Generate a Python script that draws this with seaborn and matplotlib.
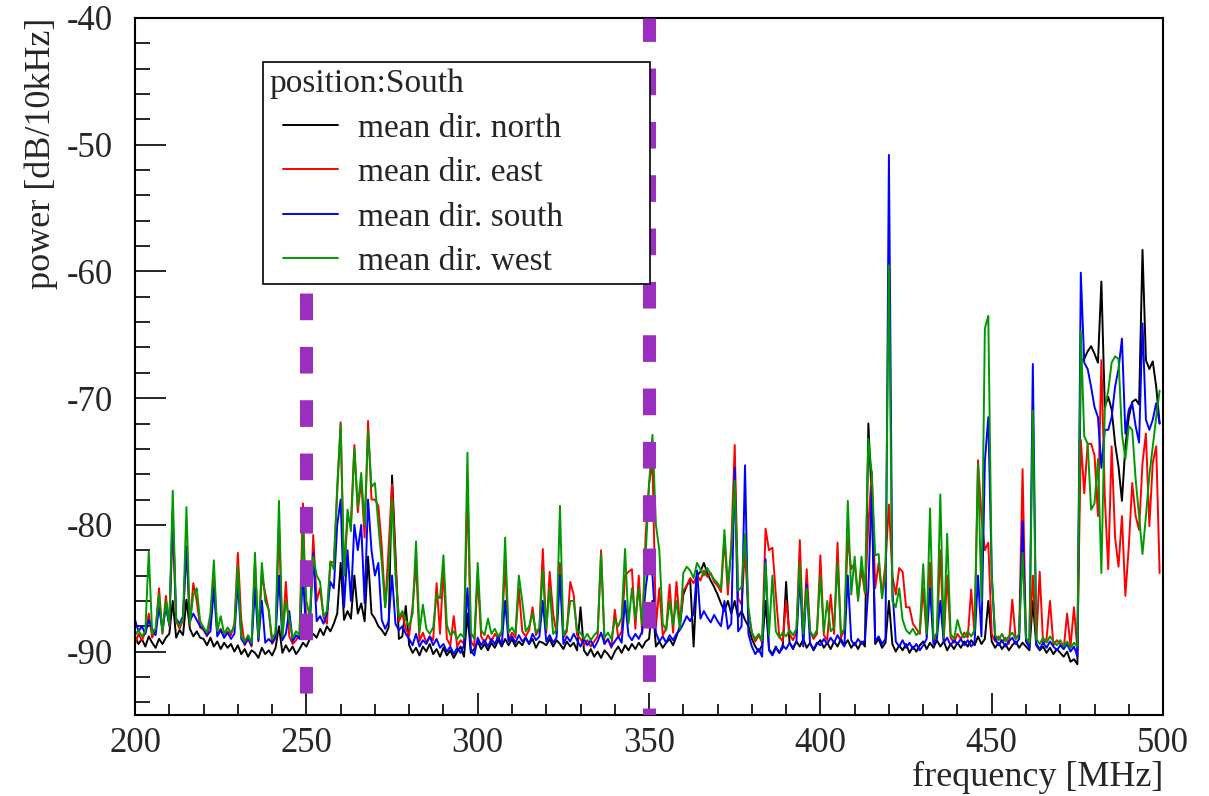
import pandas as pd
import matplotlib
matplotlib.use("Agg")
import matplotlib.pyplot as plt
from matplotlib.lines import Line2D
from matplotlib.legend_handler import HandlerLine2D
from matplotlib.ticker import MultipleLocator
import seaborn as sns

# mean power spectra, 1 MHz bins from 200 to 499 MHz
freq = list(range(200, 500))

north = [
    -88.8, -89.4, -89.0, -89.6, -88.8, -89.3, -89.7, -89.0, -89.4, -88.9,   # 200
    -88.6, -86.0, -88.9, -88.3, -88.7, -85.9, -88.2, -88.8, -88.4, -88.9,   # 210
    -89.0, -89.5, -88.9, -89.6, -89.2, -89.8, -89.3, -89.7, -89.4, -90.0,   # 220
    -89.5, -90.2, -89.8, -90.4, -89.9, -90.1, -90.5, -89.7, -90.2, -89.9,   # 230
    -90.3, -89.7, -88.0, -90.1, -89.5, -90.0, -89.6, -90.2, -89.8, -89.3,   # 240
    -89.6, -89.0, -88.6, -88.9, -88.2, -88.7, -88.0, -88.4, -87.8, -87.0,   # 250
    -83.0, -87.5, -86.8, -87.4, -84.0, -87.0, -86.2, -87.6, -82.5, -87.0,   # 260
    -87.4, -88.0, -88.3, -88.7, -88.1, -76.1, -82.3, -89.0, -88.8, -86.4,   # 270
    -89.5, -90.1, -89.7, -90.3, -89.6, -90.0, -89.4, -90.2, -89.8, -90.4,   # 280
    -89.7, -90.3, -89.9, -90.5, -90.0, -89.6, -90.4, -87.0, -90.1, -89.8,   # 290
    -89.2, -89.8, -89.4, -89.9, -89.3, -89.7, -89.1, -89.6, -89.0, -89.5,   # 300
    -89.0, -89.6, -89.2, -89.5, -88.9, -89.4, -89.0, -89.7, -89.2, -89.3,   # 310
    -89.5, -89.0, -89.6, -89.1, -89.4, -89.8, -89.2, -89.6, -89.3, -89.9,   # 320
    -86.5, -89.9, -90.3, -89.8, -90.4, -90.0, -90.5, -89.9, -90.2, -90.6,   # 330
    -90.0, -89.6, -90.1, -89.5, -89.9, -89.4, -89.8, -89.3, -89.7, -89.2,   # 340
    -89.0, -86.0, -89.6, -89.2, -89.7, -89.3, -89.0, -89.5, -88.8, -88.0,   # 350
    -85.5, -84.8, -84.3, -89.6, -84.0, -83.7, -83.0, -83.8, -84.4, -84.9,   # 360
    -85.5, -86.2, -86.8, -86.0, -87.0, -86.0, -87.3, -86.8, -87.5, -88.0,   # 370
    -89.0, -89.6, -90.0, -89.5, -86.0, -89.8, -90.2, -89.6, -90.1, -89.7,   # 380
    -84.5, -89.3, -89.8, -89.2, -89.6, -89.0, -89.7, -89.3, -89.9, -89.4,   # 390
    -89.1, -89.7, -89.3, -89.8, -89.2, -89.6, -89.0, -89.5, -89.1, -89.7,   # 400
    -89.3, -89.8, -89.2, -89.6, -72.0, -78.0, -89.4, -89.0, -89.7, -89.3,   # 410
    -86.0, -89.4, -90.0, -89.5, -89.9, -89.4, -90.1, -89.6, -90.0, -89.5,   # 420
    -89.2, -89.8, -89.3, -89.7, -89.1, -89.6, -89.2, -89.9, -89.4, -89.8,   # 430
    -89.3, -89.7, -89.2, -89.6, -89.1, -89.5, -88.8, -89.4, -89.0, -86.0,   # 440
    -89.2, -89.7, -89.3, -89.8, -89.4, -89.9, -89.5, -89.2, -89.7, -89.3,   # 450
    -89.6, -89.9, -86.0, -89.5, -89.9, -89.6, -90.1, -89.7, -90.2, -89.8,   # 460
    -90.1, -90.4, -90.0, -90.8, -90.6, -91.0, -67.1, -66.9, -66.3, -65.9,   # 470
    -66.5, -67.2, -60.8, -70.7, -69.9, -70.9, -73.6, -75.4, -78.1, -73.8,   # 480
    -71.5, -70.3, -70.1, -70.5, -58.3, -67.0, -67.7, -67.1, -69.1, -72.0,   # 490
]

east = [
    -89.4, -88.6, -89.1, -88.5, -87.0, -88.9, -88.3, -85.0, -88.6, -85.6,   # 200
    -88.0, -80.0, -87.6, -88.2, -87.5, -81.7, -87.9, -84.6, -86.0, -88.1,   # 210
    -88.3, -88.8, -87.6, -84.0, -88.6, -88.2, -88.9, -88.4, -88.7, -87.8,   # 220
    -82.2, -87.5, -89.5, -89.0, -89.6, -83.0, -89.2, -84.0, -85.4, -86.7,   # 230
    -89.4, -88.9, -80.0, -89.0, -84.5, -88.8, -89.4, -89.1, -88.6, -78.3,   # 240
    -88.5, -87.7, -80.8, -86.0, -85.0, -87.3, -87.8, -82.9, -83.0, -77.5,   # 250
    -71.9, -84.0, -79.5, -79.8, -73.7, -79.0, -76.5, -81.0, -71.8, -78.0,   # 260
    -78.0, -78.5, -81.7, -86.5, -81.8, -76.8, -83.0, -87.6, -87.0, -88.2,   # 270
    -88.7, -86.4, -83.0, -89.2, -88.5, -89.3, -88.8, -89.1, -84.6, -88.6,   # 280
    -83.5, -89.0, -89.5, -87.2, -89.6, -89.1, -89.4, -77.0, -89.2, -89.6,   # 290
    -84.0, -88.8, -89.3, -88.7, -89.2, -88.6, -89.0, -88.5, -83.0, -89.1,   # 300
    -88.5, -88.9, -85.0, -88.4, -88.8, -88.3, -86.5, -88.7, -88.2, -81.9,   # 310
    -88.5, -83.7, -87.0, -88.6, -83.0, -88.9, -88.4, -84.5, -85.5, -88.7,   # 320
    -89.0, -89.5, -89.1, -89.6, -89.2, -88.8, -82.0, -89.4, -89.0, -89.7,   # 330
    -86.7, -88.9, -88.4, -84.0, -83.7, -83.5, -88.2, -84.0, -88.6, -80.8,   # 340
    -76.8, -75.0, -88.0, -85.0, -88.7, -88.2, -84.7, -88.5, -84.5, -87.8,   # 350
    -85.2, -84.8, -84.2, -84.6, -84.0, -84.4, -83.6, -84.1, -83.8, -84.5,   # 360
    -84.8, -85.3, -81.0, -85.5, -81.5, -73.7, -85.8, -86.3, -82.0, -87.0,   # 370
    -88.5, -89.2, -88.7, -89.3, -80.3, -82.0, -81.8, -85.5, -88.8, -89.2,   # 380
    -86.0, -88.6, -89.1, -88.5, -81.2, -88.9, -83.5, -88.4, -89.0, -88.6,   # 390
    -82.4, -88.7, -89.1, -85.5, -88.6, -81.4, -88.9, -88.3, -81.0, -83.5,   # 400
    -83.0, -85.8, -83.5, -85.4, -80.0, -75.8, -85.0, -83.0, -85.6, -83.0,   # 410
    -78.4, -84.0, -85.5, -83.4, -83.7, -86.5, -86.5, -87.8, -88.2, -88.6,   # 420
    -85.0, -88.8, -83.0, -89.2, -88.7, -82.0, -89.1, -84.0, -88.9, -89.3,   # 430
    -88.6, -89.0, -88.5, -88.9, -85.1, -88.7, -74.9, -79.4, -82.0, -81.4,   # 440
    -88.6, -89.2, -88.8, -89.3, -88.9, -89.4, -85.9, -89.0, -88.7, -75.6,   # 450
    -89.0, -89.5, -84.0, -89.2, -83.7, -89.4, -89.0, -86.0, -89.5, -89.1,   # 460
    -89.4, -89.8, -87.0, -89.6, -86.5, -89.9, -73.3, -77.5, -73.6, -73.6,   # 470
    -74.5, -79.3, -67.0, -77.8, -83.5, -73.8, -81.0, -83.3, -79.3, -85.6,   # 480
    -81.7, -76.7, -79.3, -80.4, -75.1, -72.8, -80.1, -75.1, -73.8, -83.8,   # 490
]

south = [
    -87.5, -88.4, -88.0, -88.6, -87.5, -88.2, -88.7, -86.5, -88.3, -86.5,   # 200
    -87.9, -78.8, -87.4, -87.8, -87.2, -81.7, -87.6, -87.0, -87.5, -88.0,   # 210
    -88.2, -88.7, -88.4, -85.0, -88.8, -88.3, -88.9, -88.5, -89.0, -88.6,   # 220
    -84.5, -89.0, -89.4, -88.9, -89.5, -85.0, -89.1, -86.0, -89.3, -89.0,   # 230
    -89.3, -88.8, -84.0, -89.1, -88.6, -86.8, -89.2, -88.7, -89.0, -84.0,   # 240
    -88.8, -88.0, -82.2, -87.6, -87.2, -87.8, -87.0, -84.5, -85.0, -80.0,   # 250
    -78.0, -86.5, -82.0, -86.0, -80.0, -82.0, -80.0, -86.2, -78.0, -82.0,   # 260
    -84.0, -83.0, -87.5, -88.2, -87.6, -84.0, -87.8, -88.3, -88.0, -88.6,   # 270
    -89.0, -89.5, -88.6, -89.6, -89.1, -89.4, -88.8, -89.5, -89.0, -89.7,   # 280
    -89.4, -90.0, -89.6, -90.2, -89.7, -90.1, -89.5, -85.0, -89.9, -90.3,   # 290
    -88.9, -89.5, -89.1, -89.6, -89.0, -89.4, -88.8, -89.5, -86.0, -89.2,   # 300
    -88.8, -89.3, -88.7, -89.2, -88.9, -89.4, -88.6, -89.1, -88.8, -86.0,   # 310
    -89.2, -88.7, -89.3, -88.9, -84.0, -89.4, -88.8, -89.2, -88.6, -89.1,   # 320
    -89.6, -89.0, -89.5, -89.1, -89.7, -89.2, -88.5, -89.4, -89.0, -89.6,   # 330
    -89.2, -88.8, -89.3, -86.0, -88.7, -89.1, -88.6, -89.0, -88.4, -85.0,   # 340
    -83.0, -84.0, -88.5, -89.2, -88.8, -89.3, -88.7, -89.1, -88.6, -88.3,   # 350
    -87.8, -87.2, -87.6, -87.0, -83.6, -87.4, -86.8, -87.3, -87.7, -87.1,   # 360
    -87.6, -88.0, -86.0, -88.2, -87.8, -75.5, -88.4, -88.0, -75.3, -88.6,   # 370
    -89.6, -90.2, -89.8, -90.4, -82.7, -89.9, -90.3, -89.7, -90.1, -89.5,   # 380
    -89.8, -89.3, -89.7, -89.2, -84.0, -89.6, -84.7, -89.4, -89.8, -89.3,   # 390
    -89.5, -89.0, -89.4, -88.9, -89.3, -88.7, -89.2, -89.6, -84.0, -89.1,   # 400
    -89.5, -89.0, -89.4, -89.1, -85.0, -77.0, -89.2, -88.8, -89.4, -89.0,   # 410
    -50.8, -85.0, -89.2, -89.6, -89.1, -89.7, -89.3, -89.8, -89.4, -89.9,   # 420
    -89.5, -89.0, -85.0, -89.4, -89.0, -86.0, -89.3, -88.9, -89.5, -89.1,   # 430
    -89.4, -89.0, -89.5, -89.1, -89.6, -89.2, -84.0, -88.8, -75.0, -71.5,   # 440
    -83.9, -89.0, -89.5, -89.1, -89.6, -89.2, -88.9, -89.4, -89.0, -79.7,   # 450
    -89.2, -89.7, -67.3, -89.4, -89.8, -89.3, -89.7, -89.2, -89.6, -89.9,   # 460
    -89.5, -89.8, -89.4, -90.0, -89.6, -90.4, -60.1, -67.2, -67.7, -69.1,   # 470
    -70.7, -71.5, -75.5, -72.5, -72.5, -71.5, -69.1, -67.7, -65.3, -72.8,   # 480
    -70.9, -70.4, -72.2, -73.5, -64.1, -71.7, -72.5, -71.7, -70.4, -72.0,   # 490
]

west = [
    -88.7, -88.3, -88.8, -88.4, -82.1, -88.6, -88.2, -85.5, -88.5, -86.0,   # 200
    -87.9, -77.3, -87.5, -88.0, -87.4, -78.6, -87.8, -85.5, -85.0, -87.6,   # 210
    -88.1, -88.5, -87.0, -82.8, -88.4, -87.2, -88.6, -88.1, -88.5, -88.0,   # 220
    -83.2, -88.8, -89.2, -88.7, -89.3, -82.2, -88.9, -83.0, -86.0, -86.7,   # 230
    -89.0, -88.5, -78.1, -88.8, -86.0, -87.5, -88.9, -88.4, -88.7, -80.6,   # 240
    -86.0, -87.3, -82.5, -84.0, -84.5, -87.2, -86.8, -82.9, -83.5, -76.9,   # 250
    -72.1, -84.0, -78.8, -80.5, -74.0, -78.6, -75.9, -80.0, -72.6, -77.0,   # 260
    -76.7, -80.0, -83.0, -86.5, -83.5, -78.0, -84.0, -87.3, -86.8, -87.5,   # 270
    -88.0, -87.0, -81.3, -88.5, -86.3, -88.2, -88.6, -88.1, -85.5, -85.8,   # 280
    -82.4, -87.9, -88.7, -88.4, -89.0, -88.6, -88.9, -74.3, -88.5, -89.0,   # 290
    -83.0, -88.3, -88.7, -87.4, -88.6, -88.2, -88.8, -88.4, -81.0, -88.5,   # 300
    -88.1, -88.6, -84.0, -86.0, -88.4, -88.0, -87.0, -88.5, -88.1, -83.6,   # 310
    -88.2, -85.0, -88.6, -88.3, -78.5, -88.7, -88.2, -86.0, -86.0, -88.4,   # 320
    -88.5, -89.0, -88.6, -89.1, -88.7, -88.4, -82.3, -88.9, -88.5, -89.0,   # 330
    -87.5, -88.0, -87.3, -81.9, -87.8, -85.0, -87.4, -85.0, -87.9, -82.5,   # 340
    -76.8, -72.9, -80.0, -82.0, -87.8, -88.3, -86.0, -87.9, -86.0, -88.2,   # 350
    -83.8, -83.3, -83.6, -84.2, -83.0, -83.5, -84.0, -83.4, -83.9, -84.3,   # 360
    -84.6, -85.0, -80.4, -84.8, -82.0, -76.5, -85.2, -84.9, -80.7, -86.5,   # 370
    -88.5, -89.0, -88.6, -89.1, -83.0, -88.7, -84.0, -88.4, -88.9, -88.5,   # 380
    -88.8, -88.3, -88.7, -88.2, -83.0, -88.6, -85.0, -88.4, -88.8, -88.3,   # 390
    -84.0, -88.5, -86.0, -88.4, -88.1, -83.0, -88.6, -88.2, -78.1, -85.5,   # 400
    -82.5, -86.0, -82.5, -85.3, -73.2, -76.0, -82.4, -82.3, -85.8, -84.0,   # 410
    -59.5, -86.0, -86.5, -85.0, -87.5, -88.3, -88.6, -88.2, -88.7, -88.4,   # 420
    -83.1, -88.6, -78.7, -89.0, -88.5, -77.6, -88.9, -80.7, -88.6, -89.0,   # 430
    -87.5, -88.5, -88.9, -88.4, -88.8, -88.3, -75.2, -86.0, -64.5, -63.5,   # 440
    -83.9, -88.7, -89.1, -88.6, -89.2, -88.8, -88.5, -89.0, -88.6, -82.2,   # 450
    -88.9, -89.3, -71.0, -89.0, -89.4, -88.9, -89.3, -88.8, -89.2, -89.5,   # 460
    -89.1, -89.6, -89.2, -89.7, -89.3, -89.6, -64.7, -73.0, -73.6, -78.8,   # 470
    -78.3, -74.8, -83.8, -70.9, -69.4, -67.2, -66.7, -66.9, -72.8, -74.8,   # 480
    -72.2, -72.5, -76.4, -79.3, -82.3, -79.3, -76.1, -73.8, -71.5, -69.4,   # 490
]

labels = ["mean dir. north", "mean dir. east", "mean dir. south", "mean dir. west"]
colors = ["#000000", "#ff0000", "#0000ff", "#009a00"]
marker_freqs = [250, 350]
marker_tops = [-60, -40]   # the 250 MHz marker stops under the legend
legend_title = "position:South"

for s in (north, east, south, west):
    assert len(s) == len(freq), len(s)

df = pd.DataFrame({"frequency": freq, labels[0]: north, labels[1]: east,
                   labels[2]: south, labels[3]: west})
df = df.melt(id_vars="frequency", var_name="direction", value_name="power")

sns.set_style("white")
plt.rcParams["font.family"] = ["Liberation Serif", "DejaVu Serif"]
plt.rcParams["axes.unicode_minus"] = False
plt.rcParams["lines.scale_dashes"] = False

fig = plt.figure(figsize=(12.09, 7.96), dpi=100)
ax = fig.add_axes([0.1117, 0.1018, 0.8503, 0.8756])

sns.lineplot(data=df, x="frequency", y="power", hue="direction",
             hue_order=labels, palette=dict(zip(labels, colors)),
             estimator=None, sort=False, legend=False, lw=1.4, ax=ax, zorder=2)

ymin, ymax = -95, -40
ax.set_xlim(200, 500)
ax.set_ylim(ymin, ymax)

# dashed markers
for f, top, off in zip(marker_freqs, marker_tops, [22.6, 14.2]):
    ax.axvline(f, ymin=0, ymax=(top - ymin) / (ymax - ymin), color="#9a2fbf",
               lw=9.4, ls=(off, (19.2, 19.2)), zorder=3)

ax.xaxis.set_major_locator(MultipleLocator(50))
ax.xaxis.set_minor_locator(MultipleLocator(10))
ax.yaxis.set_major_locator(MultipleLocator(10))
ax.yaxis.set_minor_locator(MultipleLocator(2))
ax.tick_params(which="both", direction="in", width=1.2, color="black",
               labelsize=25, bottom=True, left=True, top=False, right=False)
ax.tick_params(axis="x", which="major", length=16, pad=9)
ax.tick_params(axis="x", which="minor", length=8)
ax.tick_params(axis="y", which="major", length=22, pad=16)
ax.tick_params(axis="y", which="minor", length=11)
for sp in ax.spines.values():
    sp.set_linewidth(1.5)
    sp.set_color("black")

ax.set_xlabel("frequency [MHz]", fontsize=26, loc="right")
ax.set_ylabel("power [dB/10kHz]", fontsize=26, loc="top")
ax.xaxis.set_label_coords(1.0, -0.066)
ax.yaxis.set_label_coords(-0.075, 1.0)

handles = [Line2D([], [], color=c, lw=1.4) for c in colors]
leg = ax.legend(handles, labels, title=legend_title, loc="upper left",
                bbox_to_anchor=(0.1245, 0.624, 0.3765, 0.3129), mode="expand",
                fontsize=24, title_fontsize=24, frameon=True, fancybox=False,
                framealpha=1, edgecolor="black", borderpad=0.2,
                labelspacing=0.42, handlelength=2.05, handletextpad=0.6,
                borderaxespad=0, alignment="left",
                handler_map={Line2D: HandlerLine2D(xpad=0.4)})
leg.get_frame().set_linewidth(1.2)
leg.set_zorder(5)

fig.savefig("out.png", dpi=100, facecolor="white")
